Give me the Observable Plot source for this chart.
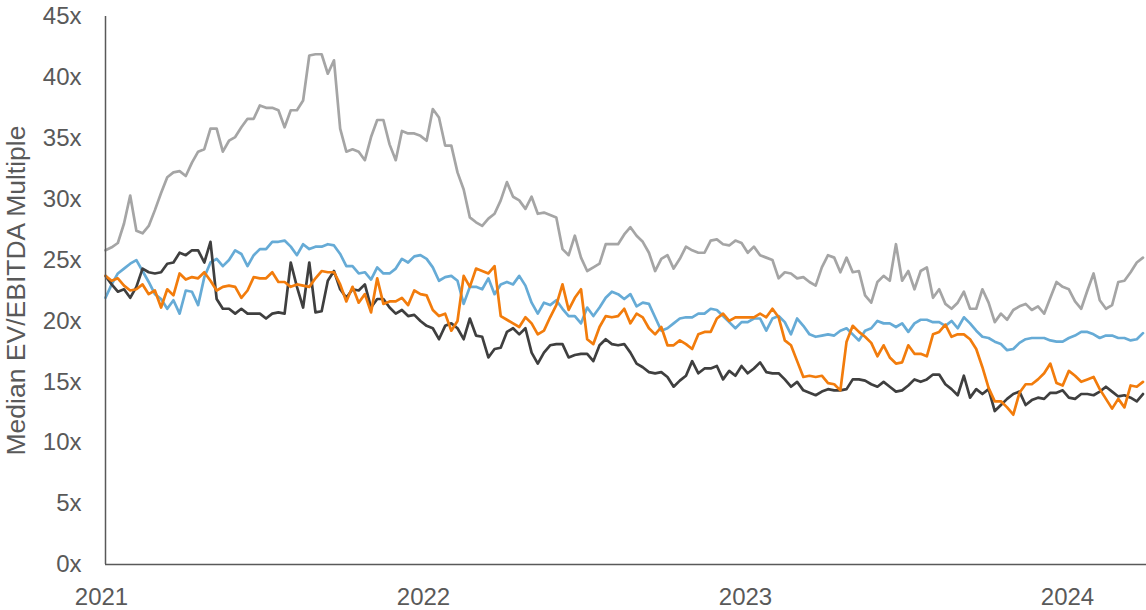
<!DOCTYPE html>
<html>
<head>
<meta charset="utf-8">
<script src="https://cdn.jsdelivr.net/npm/d3@7"></script>
<script src="https://cdn.jsdelivr.net/npm/@observablehq/plot@0.6"></script>
<style>
  html, body { margin: 0; padding: 0; background: #ffffff; }
  #chart { width: 1146px; height: 610px; overflow: hidden; }
  svg { font-family: "Liberation Sans", Arial, sans-serif; }
</style>
</head>
<body>
<div id="chart"></div>
<script>
// Weekly observations starting on this date
const startDate = "2021-01-01";
const axisEnd = "2024-03-26";
const yearTicks = ["2021-01-01", "2022-01-01", "2023-01-01", "2024-01-01"];
const yTicks = [0, 5, 10, 15, 20, 25, 30, 35, 40, 45];

const grayValues = [
  25.8, 26.05, 26.4, 28.0, 30.3, 27.4, 27.2, 27.8, 29.1, 30.5, 31.8, 32.2, 32.3, 31.9, 33.0, 33.9, 34.1, 35.8, 35.8, 33.9,
  34.8, 35.1, 35.9, 36.6, 36.6, 37.7, 37.5, 37.5, 37.3, 35.9, 37.3, 37.3, 38.1, 41.8, 41.9, 41.9, 40.3, 41.4, 35.8, 33.9,
  34.1, 33.9, 33.2, 35.1,
  36.5, 36.5, 34.5, 33.2, 35.6, 35.4, 35.4, 35.2, 34.8, 37.4, 36.7, 34.4, 34.4, 32.2, 30.8, 28.5, 28.1, 27.8, 28.4, 28.8,
  29.9, 31.4, 30.2, 29.9, 29.2, 30.2, 28.8, 28.9, 28.7, 28.5, 25.9, 25.4, 27.0, 25.2, 24.1, 24.4, 24.7, 26.3, 26.3, 26.3,
  27.1, 27.7,
  27.0, 26.5, 25.6, 24.1, 25.1, 25.4, 24.3, 25.1, 26.1, 25.8, 25.6, 25.6, 26.6, 26.7, 26.3, 26.2, 26.6, 26.4, 25.6, 26.1,
  25.4, 25.2, 25.0, 23.5, 24.0, 23.9, 23.5, 23.6, 23.2, 22.9, 24.4, 25.4, 25.2, 24.0, 25.2, 24.0, 24.1, 22.1, 21.5, 23.2,
  23.7, 23.3, 26.3,
  23.3, 24.1, 22.6, 24.1, 24.4, 21.9, 22.6, 21.4, 21.0, 21.5, 22.4, 21.0, 21.0, 22.6, 21.5, 19.9, 20.6, 20.1, 20.9, 21.2,
  21.4, 20.9, 21.2, 20.6, 21.9, 23.2, 22.8, 22.6, 21.6, 21.0, 22.5, 23.9, 21.7, 21.0, 21.3, 23.2, 23.3, 24.0, 24.8, 25.2
];

const blueValues = [
  21.9, 23.0, 23.9, 24.3, 24.7, 25.0, 24.1, 23.2, 22.2, 21.8, 21.0, 21.7, 20.6, 22.5, 22.4, 21.3, 23.6, 24.8, 25.1, 24.5,
  25.0, 25.8, 25.5, 24.5, 25.4, 25.9, 25.9, 26.5, 26.5, 26.6, 26.1, 25.4, 26.3, 25.9, 26.1, 26.1, 26.3, 26.2, 25.5, 24.5,
  24.5, 23.9, 24.0, 23.4,
  24.4, 23.9, 23.9, 24.3, 25.1, 24.8, 25.3, 25.4, 25.1, 24.4, 23.3, 23.6, 23.7, 23.3, 21.4, 22.8, 22.8, 22.6, 23.5, 22.2,
  23.0, 23.2, 23.0, 23.7, 22.9, 21.5, 20.6, 21.5, 21.3, 21.7, 21.0, 20.4, 20.4, 19.8, 21.1, 20.4, 21.1, 21.9, 22.4, 22.2,
  21.8, 22.2,
  21.2, 21.5, 21.4, 20.3, 19.2, 19.4, 19.8, 20.2, 20.3, 20.3, 20.6, 20.6, 21.0, 20.9, 20.4, 19.9, 19.4, 19.9, 19.9, 20.2,
  20.2, 19.2, 20.2, 20.4, 19.9, 18.9, 20.2, 19.6, 18.9, 18.7, 18.8, 18.9, 18.8, 19.2, 19.4, 18.9, 18.4, 19.2, 19.4, 20.0,
  19.8, 19.8, 19.5,
  19.8, 19.1, 19.8, 20.1, 20.1, 19.9, 19.9, 19.6, 20.0, 19.4, 20.3, 19.8, 19.2, 18.7, 18.6, 18.3, 18.1, 17.6, 17.7, 18.2,
  18.5, 18.6, 18.6, 18.6, 18.4, 18.3, 18.3, 18.6, 18.8, 19.1, 19.1, 18.9, 18.6, 18.8, 18.8, 18.6, 18.6, 18.4, 18.5, 19.0
];

const orangeValues = [
  23.7, 23.3, 23.5, 22.9, 22.5, 22.6, 23.0, 22.2, 22.5, 21.1, 22.6, 22.1, 23.9, 23.4, 23.6, 23.5, 24.0, 23.3, 22.5, 22.8,
  22.9, 22.8, 21.9, 22.5, 23.6, 23.5, 23.5, 24.0, 23.2, 23.2, 22.8, 23.0, 22.9, 22.8, 23.5, 24.1, 24.0, 24.0, 23.0, 21.6,
  22.8, 21.5, 22.2, 20.7,
  23.5, 21.4, 21.6, 21.6, 21.9, 21.3, 22.5, 22.2, 22.1, 20.9, 20.4, 20.6, 19.2, 20.0, 23.7, 22.8, 24.3, 24.1, 23.9, 24.5,
  20.4, 20.1, 19.8, 19.5, 20.3, 19.8, 18.9, 19.2, 20.3, 21.3, 23.0, 20.9, 21.9, 22.6, 18.5, 18.1, 19.5, 20.4, 20.3, 20.4,
  21.0, 19.8,
  20.6, 20.3, 19.4, 18.9, 19.5, 18.0, 18.0, 18.4, 18.1, 17.7, 18.9, 19.1, 19.1, 20.2, 20.6, 20.0, 20.3, 20.3, 20.3, 20.3,
  20.6, 20.3, 21.0, 20.3, 18.4, 18.0, 16.7, 15.4, 15.5, 15.4, 15.5, 14.9, 14.8, 14.3, 18.3, 19.6, 19.1, 18.7, 18.2, 17.1,
  18.0, 17.0, 16.5,
  16.6, 18.0, 17.3, 17.3, 17.1, 18.9, 19.1, 19.7, 18.7, 18.9, 18.9, 18.5, 17.7, 16.2, 14.5, 13.4, 13.4, 12.9, 12.3, 14.1,
  14.8, 14.8, 15.2, 15.7, 16.5, 14.9, 14.7, 15.9, 15.5, 15.0, 15.2, 15.4, 14.4, 13.6, 12.8, 13.6, 12.9, 14.7, 14.6, 15.0
];

const darkValues = [
  23.7, 23.0, 22.4, 22.6, 21.9, 22.8, 24.3, 24.0, 23.9, 24.0, 24.7, 24.8, 25.6, 25.4, 25.8, 25.8, 24.8, 26.5, 21.8, 21.0,
  21.0, 20.6, 21.0, 20.6, 20.6, 20.6, 20.2, 20.6, 20.7, 20.6, 24.8, 22.8, 21.1, 24.8, 20.7, 20.8, 23.3, 24.1, 22.6, 21.9,
  22.6, 22.5, 23.0, 21.1,
  21.8, 21.8, 21.1, 20.6, 20.9, 20.4, 20.5, 20.0, 19.6, 19.4, 18.5, 19.6, 19.8, 19.4, 18.5, 20.2, 18.8, 18.7, 17.0, 17.7,
  17.8, 19.1, 19.4, 18.9, 19.4, 17.4, 16.5, 17.4, 18.0, 18.1, 18.1, 17.0, 17.2, 17.3, 17.3, 16.7, 18.0, 18.5, 18.1, 18.0,
  18.1, 17.4,
  16.5, 16.2, 15.8, 15.7, 15.8, 15.4, 14.6, 15.1, 15.5, 16.7, 15.7, 16.1, 16.1, 16.3, 15.2, 15.9, 15.5, 16.3, 15.7, 16.1,
  16.6, 15.8, 15.7, 15.7, 15.2, 14.6, 15.0, 14.3, 14.1, 13.9, 14.2, 14.4, 14.3, 14.3, 14.4, 15.2, 15.2, 15.1, 14.8, 14.6,
  15.0, 14.6, 14.2,
  14.3, 14.7, 15.2, 15.0, 15.2, 15.6, 15.6, 14.8, 14.4, 13.9, 15.5, 13.7, 14.4, 14.0, 14.4, 12.6, 13.1, 13.6, 14.0, 14.2,
  13.1, 13.5, 13.7, 13.6, 14.1, 14.1, 14.3, 13.7, 13.6, 14.0, 14.0, 13.9, 14.2, 14.6, 14.2, 13.8, 13.9, 13.7, 13.4, 14.0
];

const seriesNames = ["Gray", "Blue", "Dark", "Orange"];
const seriesValues = [grayValues, blueValues, darkValues, orangeValues];
const seriesColors = ["#a5a5a5", "#66abd6", "#3f3f3f", "#f27c0c"];

const start = new Date(startDate + "T00:00:00Z");
const rows = seriesNames.map((name, s) =>
  seriesValues[s].map((v, i) => ({ series: name, date: d3.utcDay.offset(start, 7 * i), value: v }))
);

const textColor = "#595959";
const axisColor = "#595959";

const chart = Plot.plot({
  width: 1146,
  height: 610,
  marginLeft: 105,
  marginRight: 0,
  marginTop: 16,
  marginBottom: 46,
  style: { fontFamily: "'Liberation Sans', Arial, sans-serif", fontSize: "24px", color: textColor, background: "#ffffff" },
  x: { type: "utc", domain: [start, new Date(axisEnd + "T00:00:00Z")] },
  y: { domain: [0, 45] },
  marks: [
    Plot.axisY({
      ticks: yTicks,
      tickFormat: d => `${d}x`,
      tickSize: 0,
      tickPadding: 24,
      fontSize: 24,
      fill: textColor,
      label: null
    }),
    Plot.axisY({
      ticks: [],
      tickSize: 0,
      fontSize: 26.5,
      fill: textColor,
      label: "Median EV/EBITDA Multiple",
      labelAnchor: "center",
      labelArrow: "none",
      labelOffset: 99
    }),
    Plot.axisX({
      ticks: yearTicks.map(d => new Date(d + "T00:00:00Z")),
      tickFormat: d3.utcFormat("%Y"),
      tickSize: 0,
      tickPadding: 23,
      dx: -4,
      fontSize: 24,
      fill: textColor,
      label: null
    }),
    ...rows.map((r, s) =>
      Plot.lineY(r, { x: "date", y: "value", stroke: seriesColors[s], strokeWidth: 2.7, strokeLinejoin: "round" })
    ),
    Plot.ruleY([0], { stroke: axisColor, strokeWidth: 1.5 }),
    Plot.ruleX([start], { stroke: axisColor, strokeWidth: 1.5 })
  ]
});

document.getElementById("chart").appendChild(chart);
</script>
</body>
</html>
